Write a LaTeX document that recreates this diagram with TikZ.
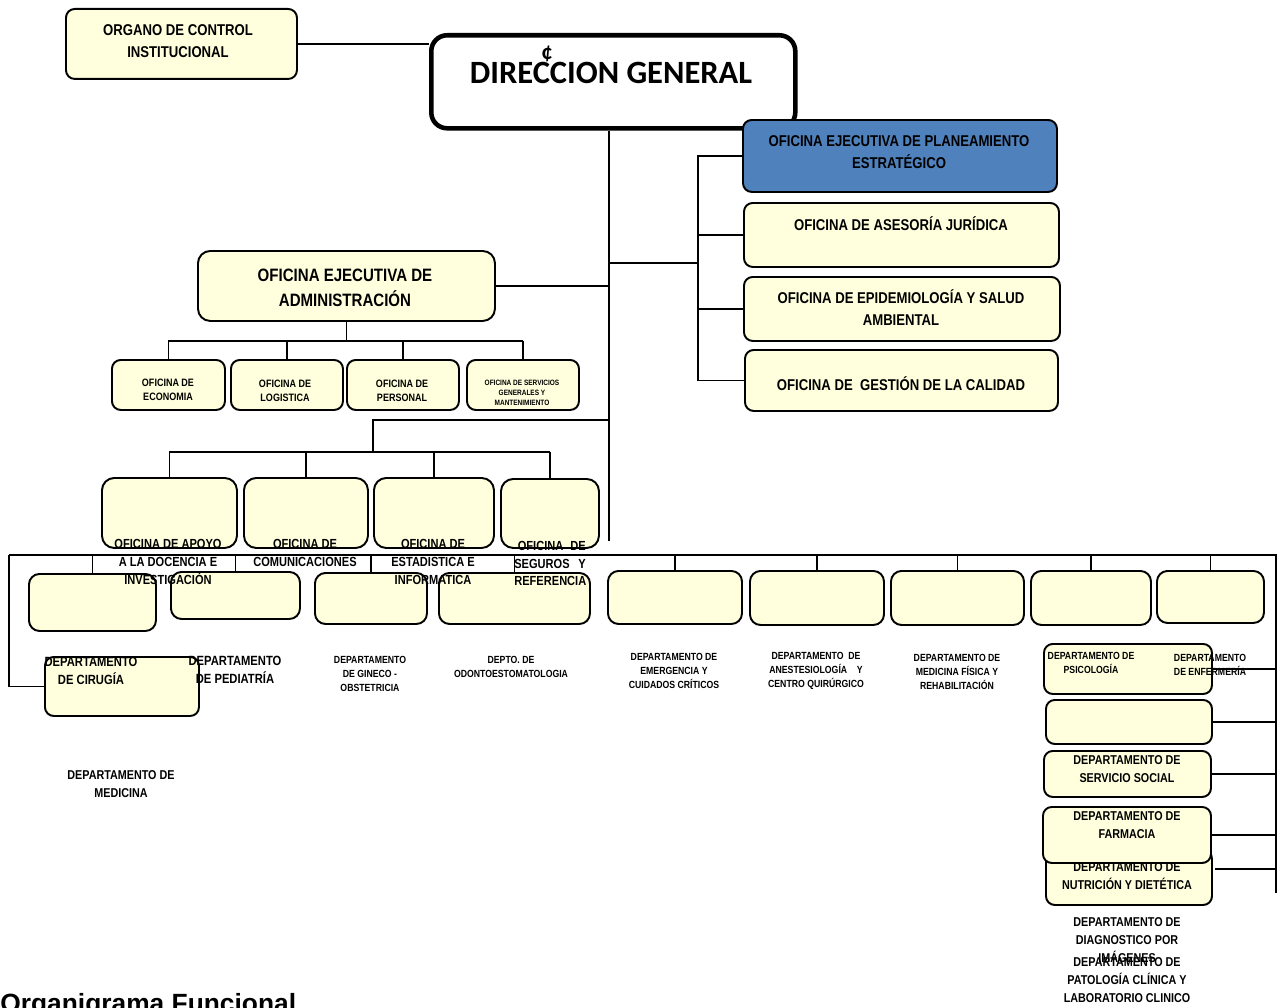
\documentclass[tikz,border=0pt]{standalone}
\usepackage{fontspec}
\setmainfont{Liberation Sans}
\newfontfamily\narrowfont[FakeStretch=0.84]{Liberation Sans}
\newfontfamily\dgfont{Carlito}
\usepackage{tikz}
\usetikzlibrary{positioning}
\usepackage{xcolor}
\definecolor{cajaamarilla}{RGB}{255,255,221}
\definecolor{cajaazul}{RGB}{79,129,189}

\begin{document}
\begin{tikzpicture}[x=0.02cm, y=-0.02cm,
    caja/.style = {draw, rounded corners=5pt, fill=cajaamarilla, line width=1.1pt, inner sep=0pt, anchor=north west},
    tam/.style 2 args = {minimum width=#1*0.02cm, minimum height=#2*0.02cm},
    rotulo/.style = {align=center, inner sep=0pt},
    letra/.style 2 args = {font=\narrowfont\bfseries\fontsize{#1}{#2}\selectfont},
    linea/.style = {line width=1.1pt}
    ]
    \useasboundingbox (0,0) rectangle (1283,1007);
    \clip (0,0) rectangle (1283,1007);

    % alta direccion
    \node[caja, tam={231}{70}] (OCI) at (65,8) {};
    \node[caja, fill=white, line width=2.6pt, rounded corners=9pt, tam={364}{93}] (DG) at (429,33) {};
    \node[caja, fill=cajaazul, tam={314}{72}] (OEPE) at (742,119) {};
    \node[caja, tam={315}{64}] (OAJ) at (743,202) {};
    \node[caja, tam={316}{64}] (OESA) at (743,276) {};
    \node[caja, tam={313}{61}] (OGC) at (744,349) {};

    % administracion
    \node[caja, rounded corners=7pt, tam={297}{70}] (OEA) at (197,250) {};
    \node[caja, tam={113}{50}] (ECO) at (111,359) {};
    \node[caja, tam={112}{50}] (LOG) at (230,359) {};
    \node[caja, tam={112}{50}] (PER) at (346,359) {};
    \node[caja, tam={112}{50}] (SGM) at (466,359) {};

    % oficinas de apoyo
    \node[caja, rounded corners=7pt, tam={135}{70}] (APO) at (101,477) {};
    \node[caja, rounded corners=7pt, tam={124}{70}] (COM) at (243,477) {};
    \node[caja, rounded corners=7pt, tam={120}{70}] (EST) at (373,477) {};
    \node[caja, rounded corners=7pt, tam={98}{69}] (SEG) at (500,478) {};

    % departamentos
    \node[caja, rounded corners=6pt, tam={127}{57}] (DEP1) at (28,573) {};
    \node[caja, rounded corners=6pt, tam={129}{47}] (DEP2) at (170,571) {};
    \node[caja, rounded corners=6pt, tam={112}{51}] (DEP3) at (314,572) {};
    \node[caja, rounded corners=6pt, tam={151}{51}] (DEP4) at (438,572) {};
    \node[caja, rounded corners=6pt, tam={134}{53}] (DEP5) at (607,570) {};
    \node[caja, rounded corners=6pt, tam={134}{54}] (DEP6) at (749,570) {};
    \node[caja, rounded corners=6pt, tam={133}{54}] (DEP7) at (890,570) {};
    \node[caja, rounded corners=6pt, tam={120}{54}] (DEP8) at (1030,570) {};
    \node[caja, rounded corners=6pt, tam={107}{52}] (DEP9) at (1156,570) {};
    \node[caja, tam={154}{59}] (CIR) at (44,656) {};
    \node[caja, tam={168}{50}] (PSI) at (1043,643) {};
    \node[caja, tam={166}{44}] (VAC) at (1045,699) {};
    \node[caja, tam={167}{46}] (SS) at (1043,750) {};
    \node[caja, tam={166}{55}] (NUT) at (1045,849) {};
    \node[rotulo, letra={7.3}{10.2}] (NUTt) at (1127,876) {DEPARTAMENTO DE\\NUTRICIÓN Y DIETÉTICA};
    \node[caja, tam={168}{56}] (FAR) at (1042,806) {};

    % conectores
    \coordinate (RB) at (698,263);
    \coordinate (AB) at (346,341);
    \coordinate (OA) at (373,420);
    \coordinate (OB) at (373,452);
    \coordinate (TF) at (609,541);
    \coordinate (BI) at (9,555);
    \coordinate (BD) at (1276,555);
    \coordinate (BF) at (1276,893);
    \coordinate (NUTc) at (1215,869);

    \draw[linea] (OCI.east) -- (OCI.east -| DG.west);
    \draw[linea] (TF |- DG.south) -- (TF);
    \draw[linea] (RB -| TF) -- (RB);
    \draw[linea] (OEPE.west) -- (OEPE.west -| RB) -- (OGC.west -| RB) -- (OGC.west);
    \draw[linea] (OAJ.west) -- (OAJ.west -| RB);
    \draw[linea] (OESA.west) -- (OESA.west -| RB);

    \draw[linea] (OEA.east) -- (OEA.east -| TF);
    \draw[linea] (OEA.south) -- (OEA.south |- AB);
    \draw[linea] (ECO.north |- AB) -- (SGM.north |- AB);
    \foreach \n in {ECO,LOG,PER,SGM}
        \draw[linea] (\n.north |- AB) -- (\n.north);

    \draw[linea] (OA -| TF) -- (OA) -- (OB);
    \draw[linea] (APO.north |- OB) -- (SEG.north |- OB);
    \foreach \n in {APO,COM,EST,SEG}
        \draw[linea] (\n.north |- OB) -- (\n.north);

    \draw[linea] (BI) -- (BD) -- (BF);
    \draw[linea] (BI) |- (CIR.west);
    \foreach \n in {DEP1,DEP2,DEP3,DEP4,DEP5,DEP6,DEP7,DEP8,DEP9}
        \draw[linea] (\n.north |- BI) -- (\n.north);
    \foreach \n in {PSI,VAC,SS,FAR}
        \draw[linea] (\n.east) -- (\n.east -| BD);
    \draw[linea] (NUTc) -- (NUTc -| BD);

    % rotulos
    \node[rotulo, letra={8.9}{12.5}] (OCIt) at (178,41) {ORGANO DE CONTROL\\INSTITUCIONAL};
    \node[rotulo, font=\dgfont\bfseries\fontsize{18.5}{22}\selectfont] (DGt) at (611,73) {DIRECCION GENERAL};
    \node[rotulo, font=\dgfont\bfseries\fontsize{13}{15}\selectfont] (DGm) at (547,54) {¢};
    \node[rotulo, letra={8.9}{12.5}] (OEPEt) at (899,152) {OFICINA EJECUTIVA DE PLANEAMIENTO\\ESTRATÉGICO};
    \node[rotulo, letra={8.9}{12.5}] (OAJt) at (901,224) {OFICINA DE ASESORÍA JURÍDICA};
    \node[rotulo, letra={8.9}{12.5}] (OESAt) at (901,308) {OFICINA DE EPIDEMIOLOGÍA Y SALUD\\AMBIENTAL};
    \node[rotulo, letra={8.9}{12.5}] (OGCt) at (901,384) {OFICINA DE\ \ GESTIÓN DE LA CALIDAD};

    \node[rotulo, letra={10.2}{14.2}] (OEAt) at (345,288) {OFICINA EJECUTIVA DE\\ADMINISTRACIÓN};
    \node[rotulo, letra={6.1}{7.9}] (ECOt) at (168,390) {OFICINA DE\\ECONOMIA};
    \node[rotulo, letra={6.1}{7.9}] (LOGt) at (285,391) {OFICINA DE\\LOGISTICA};
    \node[rotulo, letra={6.1}{7.9}] (PERt) at (402,391) {OFICINA DE\\PERSONAL};
    \node[rotulo, letra={4.4}{5.7}] (SGMt) at (522,393) {OFICINA DE SERVICIOS\\GENERALES Y\\MANTENIMIENTO};

    \node[rotulo, letra={7.5}{10.2}] (APOt) at (168,562) {OFICINA DE APOYO\\A LA DOCENCIA E\\INVESTIGACIÓN};
    \node[rotulo, letra={7.5}{10.2}] (COMt) at (305,553) {OFICINA DE\\COMUNICACIONES};
    \node[rotulo, letra={7.5}{10.2}] (ESTt) at (433,562) {OFICINA DE\\ESTADISTICA E\\INFORMATICA};
    \node[rotulo, letra={7.5}{10.2}, align=left, anchor=west] (SEGt) at (514,563.5) {\hspace*{2pt}OFICINA\hspace*{4pt}DE\\SEGUROS\hspace*{5pt}Y\\REFERENCIA};

    \node[rotulo, letra={7.6}{10.2}] (CIRt) at (91,671) {DEPARTAMENTO\\DE CIRUGÍA};
    \node[rotulo, letra={7.6}{10.2}] (PEDt) at (235,670) {DEPARTAMENTO\\DE PEDIATRÍA};
    \node[rotulo, letra={5.9}{8.2}] (GINt) at (370,674) {DEPARTAMENTO\\DE GINECO -\\OBSTETRICIA};
    \node[rotulo, letra={5.9}{7.9}] (ODOt) at (511,667) {DEPTO. DE\\ODONTOESTOMATOLOGIA};
    \node[rotulo, letra={5.9}{7.9}] (EMEt) at (674,671) {DEPARTAMENTO DE\\EMERGENCIA Y\\CUIDADOS CRÍTICOS};
    \node[rotulo, letra={5.9}{7.9}] (ANEt) at (816,671) {DEPARTAMENTO\ \ DE\\ANESTESIOLOGÍA\ \ \ \ Y\\CENTRO QUIRÚRGICO};
    \node[rotulo, letra={5.9}{7.9}] (MFRt) at (957,672) {DEPARTAMENTO DE\\MEDICINA FÍSICA Y\\REHABILITACIÓN};
    \node[rotulo, letra={5.9}{7.9}] (PSIt) at (1091,663) {DEPARTAMENTO DE\\PSICOLOGÍA};
    \node[rotulo, letra={5.9}{7.9}] (ENFt) at (1210,665) {DEPARTAMENTO\\DE ENFERMERÍA};
    \node[rotulo, letra={7.3}{10.2}] (SSt) at (1127,769) {DEPARTAMENTO DE\\SERVICIO SOCIAL};
    \node[rotulo, letra={7.3}{10.2}] (FARt) at (1127,825) {DEPARTAMENTO DE\\FARMACIA};
    \node[rotulo, letra={7.3}{10.2}] (DXIt) at (1127,940) {DEPARTAMENTO DE\\DIAGNOSTICO POR\\IMÁGENES};
    \node[rotulo, letra={7.3}{10.2}] (PATt) at (1127,980) {DEPARTAMENTO DE\\PATOLOGÍA CLÍNICA Y\\LABORATORIO CLINICO};
    \node[rotulo, letra={7.3}{10.2}] (MEDt) at (121,784) {DEPARTAMENTO DE\\MEDICINA};

    \node[inner sep=0pt, anchor=base west, font=\bfseries\fontsize{15}{18}\selectfont] (TIT) at (0,1012) {Organigrama Funcional};
\end{tikzpicture}
\end{document}
